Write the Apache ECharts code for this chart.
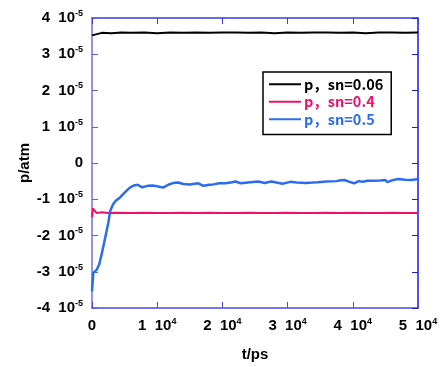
<!DOCTYPE html>
<html>
<head>
<meta charset="utf-8">
<script src="https://cdn.jsdelivr.net/npm/echarts@6/dist/echarts.min.js"></script>
<style>
  html, body { margin: 0; padding: 0; background: #fff; }
  #chart { width: 441px; height: 367px; }
</style>
</head>
<body>
<div id="chart"></div>
<script>
// pressure values are in units of 1e-5 atm, time in ps
const legendNames = ['p，sn=0.06', 'p，sn=0.4', 'p，sn=0.5'];

const blackT = [0, 300, 1500, 3000, 4500, 6000, 8000, 10000, 12000, 14000, 16000, 18000, 20000, 22000,
  24000, 26000, 28000, 30000, 32000, 34000, 36000, 38000, 40000, 42000, 44000, 46000, 48000, 50000];
const blackP = [3.52, 3.57, 3.59, 3.58, 3.6, 3.59, 3.6, 3.58, 3.6, 3.59, 3.6, 3.59, 3.6, 3.6,
  3.59, 3.6, 3.58, 3.6, 3.59, 3.6, 3.6, 3.59, 3.6, 3.58, 3.6, 3.6, 3.59, 3.6];

const redT = [0, 150, 350, 700, 1500, 2500, 4000, 6000, 8000, 10000, 12000, 14000, 16000, 18000,
  20000, 22000, 24000, 26000, 28000, 30000, 32000, 34000, 36000, 38000, 40000, 42000, 44000, 46000, 48000, 50000];
const redP = [-1.5, -1.25, -1.3, -1.38, -1.36, -1.38, -1.37, -1.38, -1.37, -1.38, -1.38, -1.37, -1.38, -1.37,
  -1.38, -1.38, -1.37, -1.38, -1.38, -1.37, -1.38, -1.38, -1.37, -1.38, -1.37, -1.38, -1.38, -1.37, -1.38, -1.38];

const blueT = [0, 200, 700, 1100, 1500, 2000, 2500, 2800, 3200, 3600, 4300, 5000, 5800, 6400, 7000, 7700,
  8500, 9300, 10000, 10900, 11700, 12500, 13200, 14000, 15000, 16300, 17100, 18000, 18600, 19500,
  20500, 21500, 22000, 22800, 24300, 25500, 26500, 27500, 28300, 29200, 30400, 31400, 32800, 33800,
  34600, 36000, 37500, 38000, 38700, 39500, 40200, 40900, 41500, 42200, 43100, 44200, 45000, 45300,
  46000, 46900, 48000, 49000, 50000];
const blueP = [-3.54, -3.03, -2.95, -2.8, -2.5, -2.08, -1.65, -1.32, -1.15, -1.05, -0.95, -0.82, -0.68, -0.62, -0.6, -0.67,
  -0.63, -0.62, -0.64, -0.68, -0.6, -0.55, -0.54, -0.58, -0.59, -0.56, -0.63, -0.6, -0.59, -0.56,
  -0.56, -0.53, -0.51, -0.56, -0.53, -0.51, -0.55, -0.51, -0.54, -0.57, -0.52, -0.54, -0.55, -0.54,
  -0.53, -0.51, -0.5, -0.48, -0.47, -0.52, -0.56, -0.5, -0.52, -0.49, -0.49, -0.48, -0.47, -0.53,
  -0.48, -0.44, -0.46, -0.47, -0.44];

const zip = (xs, ys) => xs.map((x, i) => [x, ys[i]]);

const font = 'Liberation Sans';
const rich = {
  n: { fontFamily: font, fontWeight: 'bold', fontSize: 15, lineHeight: 18, color: '#000' },
  s: { fontFamily: font, fontWeight: 'bold', fontSize: 9, lineHeight: 9, color: '#000', verticalAlign: 'top' }
};

const chart = echarts.init(document.getElementById('chart'));
chart.setOption({
  animation: false,
  grid: { left: 92, top: 18, width: 326, height: 296 },
  legend: {
    orient: 'vertical',
    left: 263,
    top: 72,
    padding: [5, 8, 8, 6],
    itemGap: 3,
    itemWidth: 32,
    itemHeight: 2,
    icon: 'rect',
    borderColor: '#000',
    borderWidth: 1.5,
    borderRadius: 0,
    data: [
      { name: legendNames[0], textStyle: { color: '#000' } },
      { name: legendNames[1], textStyle: { color: '#f0106a' } },
      { name: legendNames[2], textStyle: { color: '#2a6cf0' } }
    ],
    textStyle: { fontFamily: 'Noto Sans CJK JP', fontWeight: 'bold', fontSize: 14.5, padding: [0, 0, 0, -2] }
  },
  xAxis: [{
    type: 'value', min: 0, max: 50000, interval: 10000,
    name: 't/ps', nameLocation: 'middle', nameGap: 39,
    nameTextStyle: { fontFamily: font, fontWeight: 'bold', fontSize: 15, color: '#000' },
    axisLine: { onZero: false, lineStyle: { color: '#4a4ae0', width: 1.5 } },
    axisTick: { inside: true, length: 6, lineStyle: { color: '#4a4ae0' } },
    splitLine: { show: false },
    axisLabel: {
      margin: 9,
      formatter: v => v === 0 ? '{n|0}' : '{n|' + (v / 10000) + '  10}{s|4}',
      rich: rich
    }
  }, {
    type: 'value', min: 0, max: 50000, interval: 10000, position: 'top',
    axisLine: { show: true, onZero: false, lineStyle: { color: '#3a3ae8', width: 1.5 } },
    axisTick: { inside: true, length: 6, lineStyle: { color: '#3a3ae8' } },
    axisLabel: { show: false }, splitLine: { show: false }
  }],
  yAxis: [{
    type: 'value', min: -4, max: 4, interval: 1,
    name: 'p/atm', nameLocation: 'middle', nameGap: 60, nameRotate: 90, nameMoveOverlap: false,
    nameTextStyle: { fontFamily: font, fontWeight: 'bold', fontSize: 15, color: '#000' },
    axisLine: { show: true, onZero: false, lineStyle: { color: '#7070e0', width: 1.5 } },
    axisTick: { inside: true, length: 6, lineStyle: { color: '#6060e0' } },
    splitLine: { show: false },
    axisLabel: {
      margin: 9,
      formatter: v => v === 0 ? '{n|0}' : '{n|' + v + '  10}{s|-5}',
      rich: rich
    }
  }, {
    type: 'value', min: -4, max: 4, interval: 1, position: 'right',
    axisLine: { show: true, onZero: false, lineStyle: { color: '#1a1ae0', width: 1.5 } },
    axisTick: { inside: true, length: 6, lineStyle: { color: '#1a1ae0' } },
    axisLabel: { show: false }, splitLine: { show: false }
  }],
  series: [
    { name: legendNames[0], type: 'line', showSymbol: false, data: zip(blackT, blackP),
      lineStyle: { color: '#000', width: 2 }, itemStyle: { color: '#000' } },
    { name: legendNames[1], type: 'line', showSymbol: false, data: zip(redT, redP),
      lineStyle: { color: '#f0106a', width: 2 }, itemStyle: { color: '#f0106a' } },
    { name: legendNames[2], type: 'line', showSymbol: false, data: zip(blueT, blueP),
      lineStyle: { color: '#2a6cf0', width: 2.5 }, itemStyle: { color: '#2a6cf0' } }
  ]
});
</script>
</body>
</html>
